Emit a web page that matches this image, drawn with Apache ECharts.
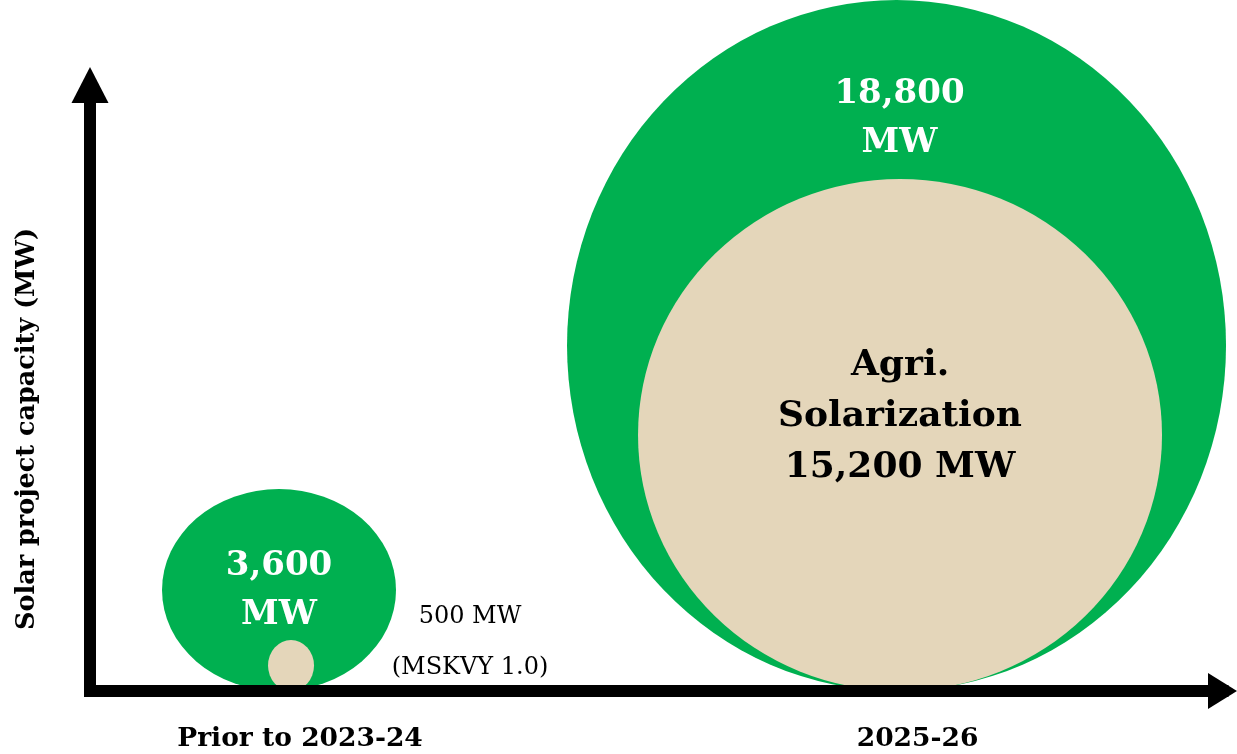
<!DOCTYPE html>
<html>
<head>
<meta charset="utf-8">
<script src="https://cdn.jsdelivr.net/npm/echarts@6/dist/echarts.min.js"></script>
<style>
  html, body { margin: 0; padding: 0; background: #fff; }
  #chart { width: 1237px; height: 754px; }
</style>
</head>
<body>
<div id="chart"></div>
<script>
// data
const categories = ['Prior to 2023-24', '2025-26']
const totalCapacity = [3600, 18800]          // green bubbles (MW)
const agriCapacity = [500, 15200]            // beige bubbles (MW)
const agriNotes = ['MSKVY 1.0', 'Agri.\nSolarization']
const yAxisName = 'Solar project capacity (MW)'

// styling / layout
const GREEN = '#00B050'
const BEIGE = '#E4D6BA'
const FONT = "'DejaVu Serif', serif"
const ELLIPSE = 'path://M0 50A50 50 0 1 1 100 50A50 50 0 1 1 0 50Z'
const greenSize = [[234, 202], [659, 691]]
const beigeSize = [[46, 51], [524, 512]]
const beigeShift = [12, 3.5]

const fmt = (v) => v.toLocaleString('en-US')

const chart = echarts.init(document.getElementById('chart'), null, { renderer: 'canvas' })

const greenData = totalCapacity.map((v, i) => ({
    value: [i, 0, v],
    symbolSize: greenSize[i],
    label: i === 0
        ? { position: 'inside', offset: [0, 1] }
        : { position: 'insideTop', distance: 70, offset: [3, 0] },
}))

const beigeData = agriCapacity.map((v, i) => ({
    value: [i, 0, v],
    symbolSize: beigeSize[i],
    symbolOffset: [beigeShift[i], '-50%'],
    label: i === 0
        ? {
            position: 'inside',
            offset: [179, -23],
            align: 'center',
            fontWeight: 'normal',
            fontSize: 24,
            lineHeight: 51,
            formatter: fmt(v) + ' MW\n(' + agriNotes[i] + ')',
        }
        : {
            position: 'inside',
            offset: [0, -18],
            fontSize: 36,
            lineHeight: 51,
            formatter: agriNotes[i] + '\n' + fmt(v) + ' MW',
        },
}))

chart.setOption({
    animation: false,
    backgroundColor: '#fff',
    grid: { left: 90, right: 14.5, top: 85, bottom: 61 },
    xAxis: {
        type: 'value',
        min: -0.3061,
        max: 1.5279,
        z: 10,
        splitLine: { show: false },
        axisTick: { show: false },
        axisLine: {
            onZero: false,
            symbol: ['none', 'triangle'],
            symbolSize: [36, 29],
            lineStyle: { color: '#000', width: 12, cap: 'square' },
        },
        axisLabel: {
            customValues: [0, 1],
            formatter: (v) => categories[Math.round(v)] || '',
            margin: 33,
            padding: [0, 0, 0, 42],
            color: '#000',
            fontFamily: FONT,
            fontWeight: 'bold',
            fontSize: 26.5,
            lineHeight: 30,
        },
    },
    yAxis: {
        type: 'value',
        min: 0,
        max: 1,
        z: 10,
        name: yAxisName,
        nameLocation: 'middle',
        nameRotate: 90,
        nameGap: 50,
        nameTextStyle: {
            color: '#000',
            fontFamily: FONT,
            fontWeight: 'bold',
            fontSize: 25.5,
            padding: [0, 82, 0, 0],
        },
        splitLine: { show: false },
        axisTick: { show: false },
        axisLabel: { show: false },
        axisLine: {
            onZero: false,
            symbol: ['none', 'triangle'],
            symbolSize: [37, 36],
            lineStyle: { color: '#000', width: 12, cap: 'square' },
        },
    },
    series: [
        {
            name: 'Total solar capacity',
            type: 'scatter',
            symbol: ELLIPSE,
            symbolOffset: [0, '-50%'],
            itemStyle: { color: GREEN, opacity: 1 },
            label: {
                show: true,
                color: '#fff',
                fontFamily: FONT,
                fontWeight: 'bold',
                fontSize: 34,
                lineHeight: 49,
                formatter: (p) => fmt(p.value[2]) + '\nMW',
            },
            emphasis: { disabled: true },
            data: greenData,
        },
        {
            name: 'Agri. solarization',
            type: 'scatter',
            symbol: ELLIPSE,
            itemStyle: { color: BEIGE, opacity: 1 },
            label: {
                show: true,
                color: '#000',
                fontFamily: FONT,
                fontWeight: 'bold',
            },
            emphasis: { disabled: true },
            data: beigeData,
        },
    ],
})
</script>
</body>
</html>
